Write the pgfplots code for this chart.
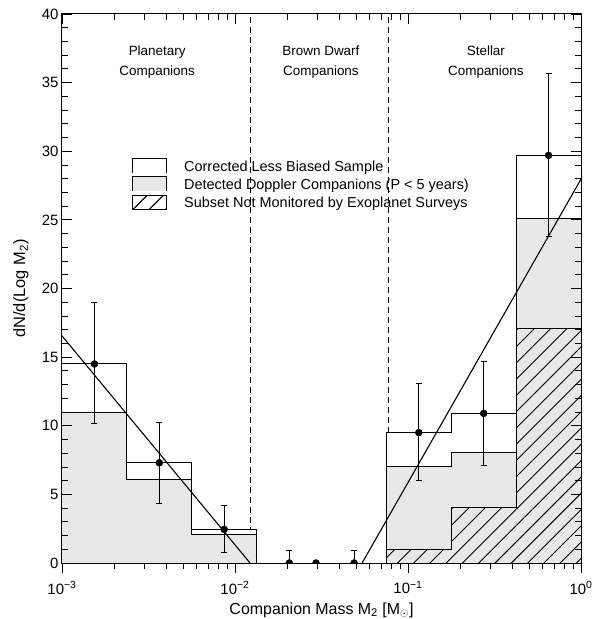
\documentclass[border=0pt]{standalone}
\usepackage{fontspec}
\setmainfont{Liberation Sans}
\usepackage{pgfplots}
\pgfplotsset{compat=1.18}
\usetikzlibrary{patterns.meta}
\definecolor{lgray}{RGB}{232,232,232}
\begin{document}
\begin{tikzpicture}
\begin{axis}[
  name=main,
  scale only axis, width=519bp, height=549bp,
  xmode=log, xmin=1e-3, xmax=1, ymin=0, ymax=40,
  axis on top, clip marker paths=true,
  axis line style={line width=1bp},
  tick align=inside, xtick pos=top, ytick pos=both,
  xtick={1e-3,1e-2,1e-1,1}, xticklabels={,,,},
  ytick={0,5,...,40}, minor y tick num=4,
  major tick length=10bp, minor tick length=6bp,
  every tick/.style={line width=0.8bp, black},
  /pgf/number format/assume math mode=true,
  yticklabel style={font=\fontsize{15}{15}\selectfont},
  ylabel={dN/d(Log M\textsubscript{2})},
  ylabel style={font=\fontsize{16.5}{16.5}\selectfont, at={(axis description cs:-0.079,0.5)}, anchor=center},
  legend style={draw=none, fill=none, at={(axis description cs:0.1343,0.7377)}, anchor=north west,
    inner sep=0pt, outer sep=0pt, row sep=2bp, column sep=0bp,
    font=\fontsize{14.5}{14.5}\selectfont,
    nodes={inner sep=0pt, text height=10.5bp, text depth=3.5bp}},
  legend cell align=left,
]
% boundaries
\addplot[forget plot, line width=1bp, dash pattern=on 6bp off 4bp] coordinates {(0.01237,0) (0.01237,40)};
\addplot[forget plot, line width=1bp, dash pattern=on 6bp off 4bp] coordinates {(0.0775,0) (0.0775,40)};
% corrected less biased sample
\addplot[line width=1bp, fill=white,
  legend image code/.code={\fill[white] (0bp,-5bp) rectangle (34bp,9bp);
    \draw[line width=1bp, draw=black, fill=none] (0bp,-5bp) -- (0bp,9bp) -- (34bp,9bp) -- (34bp,-5bp);}]
  coordinates {(1e-3,0) (1e-3,14.5) (2.3714e-3,14.5) (2.3714e-3,7.3) (5.6234e-3,7.3) (5.6234e-3,2.43) (1.3335e-2,2.43) (1.3335e-2,0)} -- cycle;
\addlegendentry{\hspace*{17.5bp}Corrected Less Biased Sample}
\addplot[forget plot, line width=1bp, fill=white]
  coordinates {(0.074989,0) (0.074989,9.5) (0.17783,9.5) (0.17783,10.9) (0.42170,10.9) (0.42170,29.7) (1,29.7) (1,0)} -- cycle;
% detected doppler companions
\addplot[line width=1bp, fill=lgray,
  legend image code/.code={\fill[lgray] (0bp,-5bp) rectangle (34bp,9bp);
    \draw[line width=1bp, draw=black, fill=none] (0bp,-5bp) -- (0bp,9bp) -- (34bp,9bp) -- (34bp,-5bp);}]
  coordinates {(1e-3,0) (1e-3,11.0) (2.3714e-3,11.0) (2.3714e-3,6.05) (5.6234e-3,6.05) (5.6234e-3,2.05) (1.3335e-2,2.05) (1.3335e-2,0)} -- cycle;
\addlegendentry{\hspace*{17.5bp}Detected Doppler Companions (P < 5 years)}
\addplot[forget plot, line width=1bp, fill=lgray]
  coordinates {(0.074989,0) (0.074989,7.0) (0.17783,7.0) (0.17783,8.05) (0.42170,8.05) (0.42170,25.07) (1,25.07) (1,0)} -- cycle;
% subset not monitored
\addplot[forget plot, draw=none, fill=lgray]
  coordinates {(0.074989,0) (0.074989,1.0) (0.17783,1.0) (0.17783,4.05) (0.42170,4.05) (0.42170,17.1) (1,17.1) (1,0)} -- cycle;
\addplot[line width=1bp, pattern={Lines[angle=45,distance=11.5bp,line width=0.9bp]},
  legend image code/.code={\fill[pattern={Lines[angle=45,distance=11.5bp,line width=0.9bp]}] (0bp,-5bp) rectangle (34bp,9bp);
    \draw[line width=1bp, draw=black] (0bp,9bp) -- (0bp,-5bp) -- (34bp,-5bp) -- (34bp,9bp);}]
  coordinates {(0.074989,0) (0.074989,1.0) (0.17783,1.0) (0.17783,4.05) (0.42170,4.05) (0.42170,17.1) (1,17.1) (1,0)} -- cycle;
\addlegendentry{\hspace*{17.5bp}Subset Not Monitored by Exoplanet Surveys}
% power-law fits
\addplot[forget plot, line width=1.1bp] coordinates {(1e-3,16.55) (0.01222,0)};
\addplot[forget plot, line width=1.1bp] coordinates {(0.0543,0) (1,27.97)};
% data points with error bars
\addplot[forget plot, only marks, mark=*, mark size=3.5bp, black,
  error bars/.cd, y dir=both, y explicit, error bar style={line width=1bp},
  error mark options={rotate=90, mark size=3bp, line width=1bp}]
  coordinates {
    (1.5399e-3,14.5) += (0,4.45) -= (0,4.35)
    (3.6517e-3,7.3) += (0,2.95) -= (0,3.0)
    (8.6596e-3,2.45) += (0,1.75) -= (0,1.7)
    (0.11548,9.5) += (0,3.6) -= (0,3.5)
    (0.27384,10.9) += (0,3.75) -= (0,3.83)
    (0.64938,29.7) += (0,6.0) -= (0,5.9)
  };
\addplot[forget plot, only marks, mark=*, mark size=3.5bp, black,
  error bars/.cd, y dir=plus, y explicit, error bar style={line width=1bp},
  error mark options={rotate=90, mark size=3bp, line width=1bp}]
  coordinates {
    (0.0206,0) += (0,0.9)
    (0.0488,0) += (0,0.9)
  };
\addplot[forget plot, only marks, mark=*, mark size=3.5bp, black] coordinates {(0.0294,0)};
% region labels
\node[align=center, font=\fontsize{13.5}{20}\selectfont] at (axis cs:3.55e-3,36.5) {Planetary\\Companions};
\node[align=center, font=\fontsize{13.5}{20}\selectfont] at (axis cs:0.0314,36.5) {Brown Dwarf\\Companions};
\node[align=center, font=\fontsize{13.5}{20}\selectfont] at (axis cs:0.282,36.5) {Stellar\\Companions};
\coordinate (sw) at (rel axis cs:0,0);
\coordinate (ne) at (rel axis cs:1,1);
\end{axis}
\begin{axis}[
  scale only axis, width=519bp, height=549bp,
  xmode=log, xmin=1e-3, xmax=1, ymin=0, ymax=40,
  axis line style={line width=1bp},
  tick align=outside, xtick pos=bottom, ytick=\empty,
  xtick={1e-3,1e-2,1e-1,1},
  xticklabels={10\textsuperscript{−3},10\textsuperscript{−2},10\textsuperscript{−1},10\textsuperscript{0}},
  xticklabel style={font=\fontsize{15}{15}\selectfont, yshift=-5bp},
  major tick length=10bp, minor tick length=6bp,
  every tick/.style={line width=0.8bp, black},
  xlabel={Companion Mass M\textsubscript{2} [M\textsubscript{$\odot$}]},
  xlabel style={font=\fontsize{16}{16}\selectfont, at={(axis description cs:0.5,-0.0929)}, anchor=base},
]
\end{axis}
\pgfresetboundingbox
\path ([shift={(-62bp,-56bp)}]sw) rectangle ([shift={(13bp,14bp)}]ne);
\end{tikzpicture}
\end{document}
